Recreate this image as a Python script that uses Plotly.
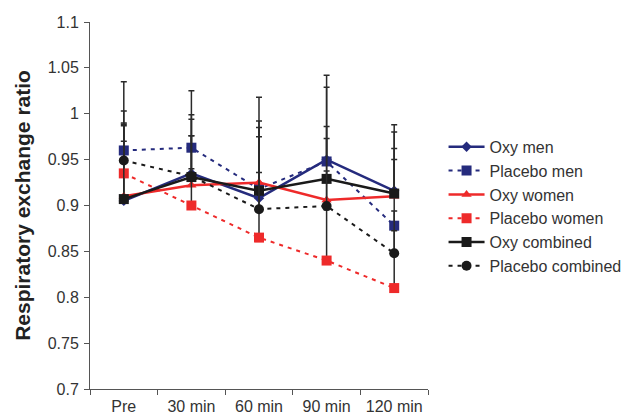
import plotly.graph_objects as go

categories = ["Pre", "30 min", "60 min", "90 min", "120 min"]

oxy_men = [0.905, 0.935, 0.908, 0.950, 0.916]
placebo_men = [0.960, 0.963, 0.918, 0.948, 0.878]
oxy_women = [0.910, 0.922, 0.925, 0.906, 0.910]
placebo_women = [0.935, 0.900, 0.865, 0.840, 0.810]
oxy_combined = [0.907, 0.931, 0.916, 0.929, 0.913]
placebo_combined = [0.949, 0.932, 0.896, 0.8995, 0.848]

# upward error (SD)
oxy_men_err = [0.082, 0.064, 0.084, 0.092, 0.072]
placebo_men_err = [0.075, 0.062, 0.100, 0.081, 0.084]
oxy_women_err = [0.060, 0.054, 0.050, 0.067, 0.040]
placebo_women_err = [0.055, 0.040, 0.055, 0.055, 0.0625]
oxy_combined_err = [0.0815, 0.063, 0.069, 0.057, 0.067]
placebo_combined_err = [0.054, 0.044, 0.040, 0.038, 0.046]

NAVY = "#252b7d"
RED = "#ee2a2a"
BLACK = "#1a1a1a"
ERR = "#2a2a2a"

series = [
    ("Oxy men", oxy_men, oxy_men_err, NAVY, "solid", "diamond", 8),
    ("Placebo men", placebo_men, placebo_men_err, NAVY, "4px,5px", "square", 10),
    ("Oxy women", oxy_women, oxy_women_err, RED, "solid", "triangle-up", 9),
    ("Placebo women", placebo_women, placebo_women_err, RED, "4px,5px", "square", 10),
    ("Oxy combined", oxy_combined, oxy_combined_err, BLACK, "solid", "square", 10),
    ("Placebo combined", placebo_combined, placebo_combined_err, BLACK, "4px,5px", "circle", 10),
]

fig = go.Figure()
for name, vals, err, color, dash, sym, size in series:
    fig.add_trace(go.Scatter(
        x=categories, y=vals, name=name, mode="lines+markers",
        line=dict(color=color, width=2.5 if dash == "solid" else 2, dash=dash),
        marker=dict(symbol=sym, size=size, color=color),
        error_y=dict(type="data", array=err, symmetric=False,
                     arrayminus=[0] * len(err), color=ERR, thickness=1.5, width=3),
    ))

fig.update_layout(
    width=631, height=410,
    margin=dict(l=82, r=199, t=14, b=29),
    paper_bgcolor="white", plot_bgcolor="white",
    font=dict(family="Liberation Sans, Arial, sans-serif", size=16, color="#333"),
    showlegend=True,
    legend=dict(x=1.046, y=0.706, xanchor="left", yanchor="top",
                font=dict(size=16, color="#333"), bgcolor="rgba(0,0,0,0)",
                itemwidth=36, tracegroupgap=0),
)
fig.update_xaxes(
    type="category", range=[-0.5, 4.5], showline=True, linecolor="#555", linewidth=1,
    ticks="outside", tickson="boundaries", ticklen=5, tickcolor="#555",
    showgrid=False, zeroline=False, tickfont=dict(size=16, color="#333"),
    automargin=False, ticklabelstandoff=3,
)
fig.update_yaxes(
    range=[0.7, 1.1], tickvals=[0.7, 0.75, 0.8, 0.85, 0.9, 0.95, 1.0, 1.05, 1.1],
    ticktext=["0.7", "0.75", "0.8", "0.85", "0.9", "0.95", "1", "1.05", "1.1"],
    showline=True, linecolor="#555", linewidth=1, ticks="outside", ticklen=5,
    tickcolor="#555", showgrid=False, zeroline=False,
    tickfont=dict(size=16, color="#333"), automargin=False, ticklabelstandoff=2,
    title=dict(text="<b>Respiratory exchange ratio</b>", font=dict(size=21, color="#222"), standoff=11),
)

fig.write_html("out.html")
